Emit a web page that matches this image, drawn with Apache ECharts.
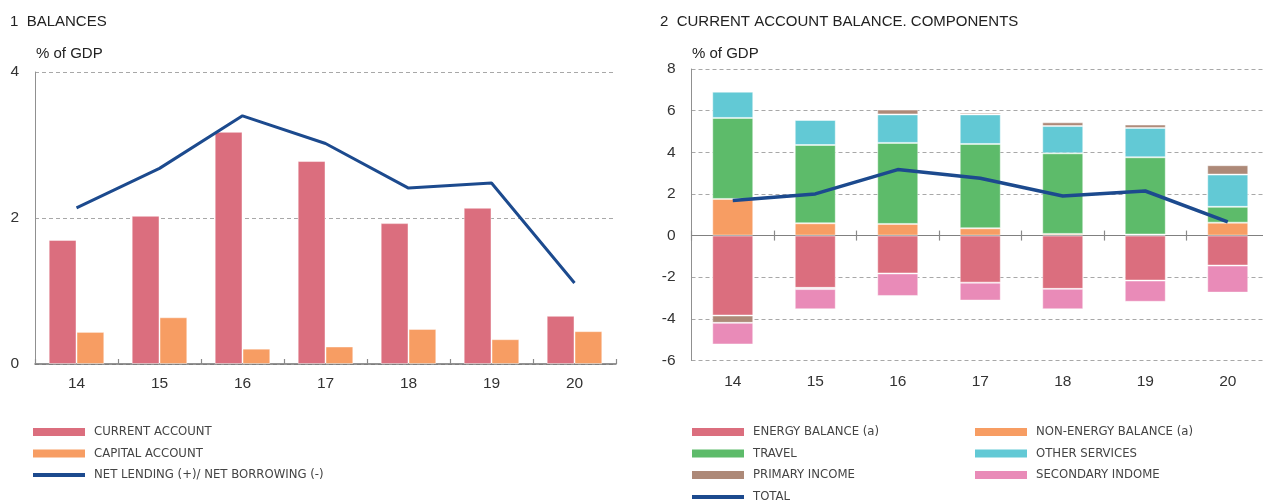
<!DOCTYPE html>
<html>
<head>
<meta charset="utf-8">
<script src="https://cdn.jsdelivr.net/npm/echarts@6/dist/echarts.min.js"></script>
<style>
  html, body { margin: 0; padding: 0; background: #fff; }
  #chart { width: 1263px; height: 503px; }
</style>
</head>
<body>
<div id="chart"></div>
<script>
// years on both x axes
const years = ['14', '15', '16', '17', '18', '19', '20'];

// panel 1: balances (% of GDP)
const currentAccount = [1.70, 2.03, 3.18, 2.78, 1.93, 2.14, 0.66];
const capitalAccount = [0.44, 0.64, 0.21, 0.24, 0.48, 0.34, 0.45];
const netLending = [2.14, 2.68, 3.40, 3.02, 2.41, 2.48, 1.11];

// panel 2: current account components (% of GDP)
const energyBalance = [-3.84, -2.51, -1.82, -2.26, -2.56, -2.16, -1.44];
const nonEnergyBalance = [1.76, 0.59, 0.56, 0.35, 0.08, 0.05, 0.62];
const travel = [3.89, 3.76, 3.89, 4.05, 3.87, 3.71, 0.76];
const otherServices = [1.26, 1.20, 1.37, 1.42, 1.31, 1.41, 1.55];
const primaryIncome = [-0.35, -0.06, 0.23, 0.08, 0.18, 0.16, 0.45];
const secondaryIncome = [-1.04, -0.97, -1.08, -0.86, -0.98, -1.02, -1.30];
const total = [1.68, 2.00, 3.17, 2.75, 1.90, 2.14, 0.66];

const leftTicks = { min: 0, max: 4, interval: 2 };
const rightTicks = { min: -6, max: 8, interval: 2 };

const FONT = "'Liberation Sans', Arial, sans-serif";
const NARROW = "'DejaVu Sans Condensed', 'Liberation Sans', sans-serif";
const C = {
  red: '#DB6E7E',
  orange: '#F79D63',
  navy: '#1C4A8E',
  green: '#5DBB6A',
  cyan: '#62C9D5',
  brown: '#AD8978',
  pink: '#E98BB8',
};

const chart = echarts.init(document.getElementById('chart'), null, { renderer: 'canvas' });

const gridLine = { show: true, lineStyle: { color: '#a8a8a8', type: [4, 3], width: 1 } };
const yLabel = { color: '#333', fontSize: 15.5, fontFamily: FONT, margin: 16 };
const xLabel = { color: '#333', fontSize: 15.5, fontFamily: FONT };
const tickStyle = { color: '#8a8a8a', width: 1.2 };

function barItem(color) {
  return { color: color, borderColor: 'rgba(255,255,255,0.45)', borderWidth: 1 };
}

function legendBase(extra) {
  return Object.assign({
    orient: 'vertical',
    icon: 'rect',
    itemWidth: 52,
    itemHeight: 8,
    itemGap: 7.5,
    padding: 0,
    selectedMode: false,
    itemStyle: { borderWidth: 0 },
    textStyle: {
      color: '#444',
      fontSize: 13,
      fontFamily: NARROW,
      lineHeight: 14,
      padding: [0, 0, 0, 4],
    },
  }, extra);
}

function titleText(text, left, top) {
  return {
    text: text, left: left, top: top, padding: 0,
    textStyle: { fontSize: 15, fontWeight: 'normal', color: '#222', fontFamily: FONT },
  };
}

const option = {
  animation: false,
  title: [
    titleText('1  BALANCES', 10, 14),
    titleText('% of GDP', 36, 46),
    titleText('2  CURRENT ACCOUNT BALANCE. COMPONENTS', 660, 14),
    titleText('% of GDP', 692, 46),
  ],
  legend: [
    legendBase({ left: 33, top: 425, data: ['CURRENT ACCOUNT', 'CAPITAL ACCOUNT'] }),
    legendBase({ left: 33, top: 468, itemHeight: 4, data: ['NET LENDING (+)/ NET BORROWING (-)'] }),
    legendBase({ left: 692, top: 425, data: ['ENERGY BALANCE (a)', 'TRAVEL', 'PRIMARY INCOME'] }),
    legendBase({ left: 692, top: 490, itemHeight: 4, data: ['TOTAL'] }),
    legendBase({ left: 975, top: 425, data: ['NON-ENERGY BALANCE (a)', 'OTHER SERVICES', 'SECONDARY INDOME'] }),
  ],
  grid: [
    { left: 35, top: 72, width: 581, height: 292, outerBoundsMode: 'none' },
    { left: 691.5, top: 69, width: 577.5, height: 291.5, outerBoundsMode: 'none' },
  ],
  xAxis: [
    {
      type: 'category', gridIndex: 0, data: years,
      axisLine: { lineStyle: { color: '#707070', width: 1.5 } },
      axisTick: { show: true, inside: true, length: 5, interval: 0, lineStyle: tickStyle },
      axisLabel: Object.assign({ margin: 12 }, xLabel),
    },
    // labels at the bottom of panel 2
    {
      type: 'category', gridIndex: 1, data: years, position: 'bottom',
      axisLine: { show: false, onZero: false },
      axisTick: { show: false },
      axisLabel: Object.assign({ margin: 13 }, xLabel),
    },
    // zero line with ticks below it
    {
      type: 'category', gridIndex: 1, data: years, position: 'bottom',
      axisLine: { show: true, onZero: true, lineStyle: { color: '#808080', width: 1.2 } },
      axisTick: { show: true, length: 5, interval: 0, lineStyle: tickStyle },
      axisLabel: { show: false },
    },
    // ticks above the zero line
    {
      type: 'category', gridIndex: 1, data: years, position: 'top',
      axisLine: { show: false, onZero: true },
      axisTick: { show: true, length: 5, interval: 0, lineStyle: tickStyle },
      axisLabel: { show: false },
    },
  ],
  yAxis: [
    {
      type: 'value', gridIndex: 0,
      min: leftTicks.min, max: leftTicks.max, interval: leftTicks.interval,
      axisLine: { show: true, lineStyle: { color: '#909090' } },
      axisTick: { show: false },
      axisLabel: yLabel,
      splitLine: gridLine,
    },
    {
      type: 'value', gridIndex: 1,
      min: rightTicks.min, max: rightTicks.max, interval: rightTicks.interval,
      axisLine: { show: true, lineStyle: { color: '#909090' } },
      axisTick: { show: false },
      axisLabel: yLabel,
      splitLine: gridLine,
    },
    {
      type: 'value', gridIndex: 1,
      min: rightTicks.min, max: rightTicks.max, interval: rightTicks.interval,
      show: false,
    },
  ],
  series: [
    {
      name: 'CURRENT ACCOUNT', type: 'bar', xAxisIndex: 0, yAxisIndex: 0,
      data: currentAccount, barGap: '0%', barCategoryGap: '33%', itemStyle: barItem(C.red),
    },
    {
      name: 'CAPITAL ACCOUNT', type: 'bar', xAxisIndex: 0, yAxisIndex: 0,
      data: capitalAccount, barGap: '0%', barCategoryGap: '33%', itemStyle: barItem(C.orange),
    },
    {
      name: 'NET LENDING (+)/ NET BORROWING (-)', type: 'line', xAxisIndex: 0, yAxisIndex: 0,
      data: netLending, symbol: 'none', color: C.navy,
      lineStyle: { color: C.navy, width: 3 }, z: 5,
    },
    {
      name: 'ENERGY BALANCE (a)', type: 'bar', xAxisIndex: 1, yAxisIndex: 1, stack: 'ca',
      data: energyBalance, barWidth: 41, itemStyle: barItem(C.red),
    },
    {
      name: 'NON-ENERGY BALANCE (a)', type: 'bar', xAxisIndex: 1, yAxisIndex: 1, stack: 'ca',
      data: nonEnergyBalance, barWidth: 41, itemStyle: barItem(C.orange),
    },
    {
      name: 'TRAVEL', type: 'bar', xAxisIndex: 1, yAxisIndex: 1, stack: 'ca',
      data: travel, barWidth: 41, itemStyle: barItem(C.green),
    },
    {
      name: 'OTHER SERVICES', type: 'bar', xAxisIndex: 1, yAxisIndex: 1, stack: 'ca',
      data: otherServices, barWidth: 41, itemStyle: barItem(C.cyan),
    },
    {
      name: 'PRIMARY INCOME', type: 'bar', xAxisIndex: 1, yAxisIndex: 1, stack: 'ca',
      data: primaryIncome, barWidth: 41, itemStyle: barItem(C.brown),
    },
    {
      name: 'SECONDARY INDOME', type: 'bar', xAxisIndex: 1, yAxisIndex: 1, stack: 'ca',
      data: secondaryIncome, barWidth: 41, itemStyle: barItem(C.pink),
    },
    {
      name: 'TOTAL', type: 'line', xAxisIndex: 1, yAxisIndex: 1,
      data: total, symbol: 'none', color: C.navy,
      lineStyle: { color: C.navy, width: 3.5 }, z: 5,
    },
  ],
};

chart.setOption(option);
</script>
</body>
</html>
